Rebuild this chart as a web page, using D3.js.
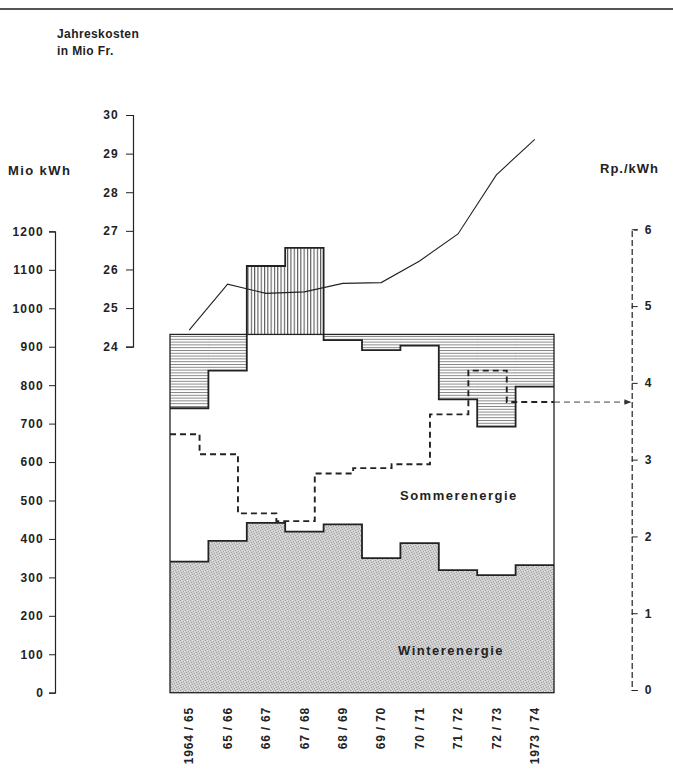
<!DOCTYPE html>
<html>
<head>
<meta charset="utf-8">
<script src="https://cdn.jsdelivr.net/npm/d3@7"></script>
<style>
  body { margin: 0; background: #fff; }
  svg text { font-family: "Liberation Sans", Arial, sans-serif; font-weight: bold; fill: #222; }
</style>
</head>
<body>
<script>
// data
var seasons = ["1964 / 65", "65 / 66", "66 / 67", "67 / 68", "68 / 69", "69 / 70", "70 / 71", "71 / 72", "72 / 73", "1973 / 74"];
var winterEnergy = [341, 395, 442, 419, 438, 350, 389, 319, 306, 332];      // Mio kWh
var totalEnergy = [740, 838, 1110, 1157, 917, 891, 903, 763, 692, 796];    // Mio kWh
var expected = 932;                                                         // Mio kWh
var annualCost = [24.43, 25.62, 25.38, 25.42, 25.64, 25.66, 26.22, 26.92, 28.45, 29.37]; // Mio Fr.
var unitPrice = [3.33, 3.07, 2.30, 2.20, 2.82, 2.89, 2.94, 3.59, 4.16, 3.75]; // Rp./kWh
var energyTicks = d3.range(0, 1201, 100);
var costTicks = [24, 25, 26, 27, 28, 29, 30];
var priceTicks = [0, 1, 2, 3, 4, 5, 6];

var W = 673, H = 774;

var svg = d3.select("body").append("svg")
	.attr("width", W)
	.attr("height", H);

var defs = svg.append("defs");

var hpat = defs.append("pattern").attr("id", "hhatch")
	.attr("patternUnits", "userSpaceOnUse").attr("width", 6).attr("height", 2.8);
hpat.append("line").attr("x1", 0).attr("x2", 6).attr("y1", 0.5).attr("y2", 0.5)
	.attr("stroke", "#666").attr("stroke-width", 0.8);

var vpat = defs.append("pattern").attr("id", "vhatch")
	.attr("patternUnits", "userSpaceOnUse").attr("width", 3.3).attr("height", 6);
vpat.append("line").attr("x1", 0.6).attr("x2", 0.6).attr("y1", 0).attr("y2", 6)
	.attr("stroke", "#333").attr("stroke-width", 0.9);

// halftone-like grey for the winter part
var spat = defs.append("pattern").attr("id", "stipple")
	.attr("patternUnits", "userSpaceOnUse").attr("width", 5).attr("height", 5);
spat.append("rect").attr("width", 5).attr("height", 5).attr("fill", "#cdcdcd");
[[0, 0], [3, 1], [1, 2], [4, 3], [2, 4]].forEach(function(p) {
	spat.append("rect").attr("x", p[0]).attr("y", p[1]).attr("width", 1).attr("height", 1).attr("fill", "#a4a4a4");
});
[[2, 0], [0, 3], [4, 1]].forEach(function(p) {
	spat.append("rect").attr("x", p[0]).attr("y", p[1]).attr("width", 1).attr("height", 1).attr("fill", "#e6e6e6");
});

defs.append("marker").attr("id", "arrow")
	.attr("viewBox", "0 0 10 10").attr("refX", 9).attr("refY", 5)
	.attr("markerWidth", 7).attr("markerHeight", 7).attr("orient", "auto")
	.append("path").attr("d", "M0,1L10,5L0,9Z").attr("fill", "#333");

// scales
var x = d3.scaleBand().domain(seasons).range([170, 554]).padding(0);
var yE = d3.scaleLinear().domain([0, 1200]).range([692.7, 231.4]);
var yC = d3.scaleLinear().domain([24, 30]).range([346.7, 115]);
var yP = d3.scaleLinear().domain([0, 6]).range([690, 229.3]);
var bw = x.bandwidth();

// top rule
svg.append("line").attr("x1", 0).attr("x2", W).attr("y1", 9).attr("y2", 9)
	.attr("stroke", "#555").attr("stroke-width", 2);

// winter area
svg.append("g").selectAll("rect")
	.data(winterEnergy)
	.enter().append("rect")
	.attr("x", function(d, i) { return x(seasons[i]); })
	.attr("width", bw + 0.5)
	.attr("y", function(d) { return yE(d); })
	.attr("height", function(d) { return yE(0) - yE(d); })
	.attr("fill", "url(#stipple)");

// deviation from expected production
svg.append("g").selectAll("rect")
	.data(totalEnergy)
	.enter().append("rect")
	.attr("x", function(d, i) { return x(seasons[i]); })
	.attr("width", bw + 0.3)
	.attr("y", function(d) { return yE(Math.max(d, expected)); })
	.attr("height", function(d) { return Math.abs(yE(d) - yE(expected)); })
	.attr("fill", function(d) { return d > expected ? "url(#vhatch)" : "url(#hhatch)"; });

// box outline
svg.append("rect")
	.attr("x", x.range()[0]).attr("y", yE(expected))
	.attr("width", x.range()[1] - x.range()[0])
	.attr("height", yE(0) - yE(expected))
	.attr("fill", "none").attr("stroke", "#222").attr("stroke-width", 1.3);

// step outlines
function stepPoints(vals) {
	var pts = vals.map(function(v, i) { return [x(seasons[i]), yE(v)]; });
	pts.push([x.range()[1], yE(vals[vals.length - 1])]);
	return pts;
}
var step = d3.line().curve(d3.curveStepAfter);

svg.append("path").attr("d", step(stepPoints(totalEnergy)))
	.attr("fill", "none").attr("stroke", "#222").attr("stroke-width", 1.8);
svg.append("path").attr("d", step(stepPoints(winterEnergy)))
	.attr("fill", "none").attr("stroke", "#222").attr("stroke-width", 1.8);

// unit price (dashed steps, drawn slightly shifted as in the original)
var shift = 0.23 * bw;
var pricePts = [];
unitPrice.forEach(function(p, i) {
	var x0 = Math.max(x.range()[0], x(seasons[i]) - shift);
	var x1 = i < seasons.length - 1 ? x(seasons[i + 1]) - shift : x.range()[1];
	pricePts.push([x0, yP(p)], [x1, yP(p)]);
});
svg.append("path").attr("d", d3.line()(pricePts))
	.attr("fill", "none").attr("stroke", "#222").attr("stroke-width", 1.9)
	.attr("stroke-dasharray", "6,4");

var rightAxisX = 631.7;
svg.append("line")
	.attr("x1", x.range()[1]).attr("x2", rightAxisX - 1)
	.attr("y1", yP(unitPrice[unitPrice.length - 1])).attr("y2", yP(unitPrice[unitPrice.length - 1]))
	.attr("stroke", "#444").attr("stroke-width", 1)
	.attr("stroke-dasharray", "6,4")
	.attr("marker-end", "url(#arrow)");

// annual cost line
svg.append("path")
	.attr("d", d3.line()
		.x(function(d, i) { return x(seasons[i]) + bw / 2; })
		.y(function(d) { return yC(d); })(annualCost))
	.attr("fill", "none").attr("stroke", "#222").attr("stroke-width", 1.1);

// axes
function styleAxis(g, fs, ls) {
	g.selectAll("path").attr("stroke", "#222").attr("stroke-width", 1.2);
	g.selectAll("line").attr("stroke", "#222").attr("stroke-width", 1);
	g.selectAll("text").attr("font-size", fs).attr("letter-spacing", ls)
		.style("font-family", "'Liberation Sans', Arial, sans-serif").style("font-weight", "bold").attr("fill", "#222");
}

var gE = svg.append("g").attr("transform", "translate(55,0)")
	.call(d3.axisLeft(yE).tickValues(energyTicks).tickSize(6).tickPadding(5).tickFormat(d3.format("d")));
styleAxis(gE, "12px", "1.2px");

var gC = svg.append("g").attr("transform", "translate(133,0)")
	.call(d3.axisLeft(yC).tickValues(costTicks).tickSize(7).tickPadding(7).tickFormat(d3.format("d")));
styleAxis(gC, "12px", "1.2px");

var gP = svg.append("g").attr("transform", "translate(" + rightAxisX + ",0)")
	.call(d3.axisRight(yP).tickValues(priceTicks).tickSize(6).tickPadding(7).tickFormat(d3.format("d")));
styleAxis(gP, "12px", "1px");
gP.select(".domain").attr("stroke-dasharray", "6,3");

// x labels
svg.append("g").selectAll("text")
	.data(seasons)
	.enter().append("text")
	.attr("transform", function(d) {
		return "translate(" + (x(d) + bw / 2) + ",707) rotate(-90)";
	})
	.attr("dy", "0.35em")
	.attr("text-anchor", "end")
	.attr("font-size", "12px")
	.attr("letter-spacing", "0.8px")
	.text(function(d) { return d; });

// titles and labels
svg.append("text").attr("x", 57).attr("y", 38).attr("font-size", "12px").attr("letter-spacing", "0.4px").text("Jahreskosten");
svg.append("text").attr("x", 57).attr("y", 55).attr("font-size", "12px").attr("letter-spacing", "0.4px").text("in Mio Fr.");
svg.append("text").attr("x", 8).attr("y", 175).attr("font-size", "13px").attr("letter-spacing", "1.4px").text("Mio kWh");
svg.append("text").attr("x", 600).attr("y", 173).attr("font-size", "13px").attr("letter-spacing", "1px").text("Rp./kWh");
svg.append("text").attr("x", 400).attr("y", 500).attr("font-size", "13px").attr("letter-spacing", "1.5px").text("Sommerenergie");
svg.append("text").attr("x", 398).attr("y", 655).attr("font-size", "13px").attr("letter-spacing", "1.5px").text("Winterenergie");
</script>
</body>
</html>
